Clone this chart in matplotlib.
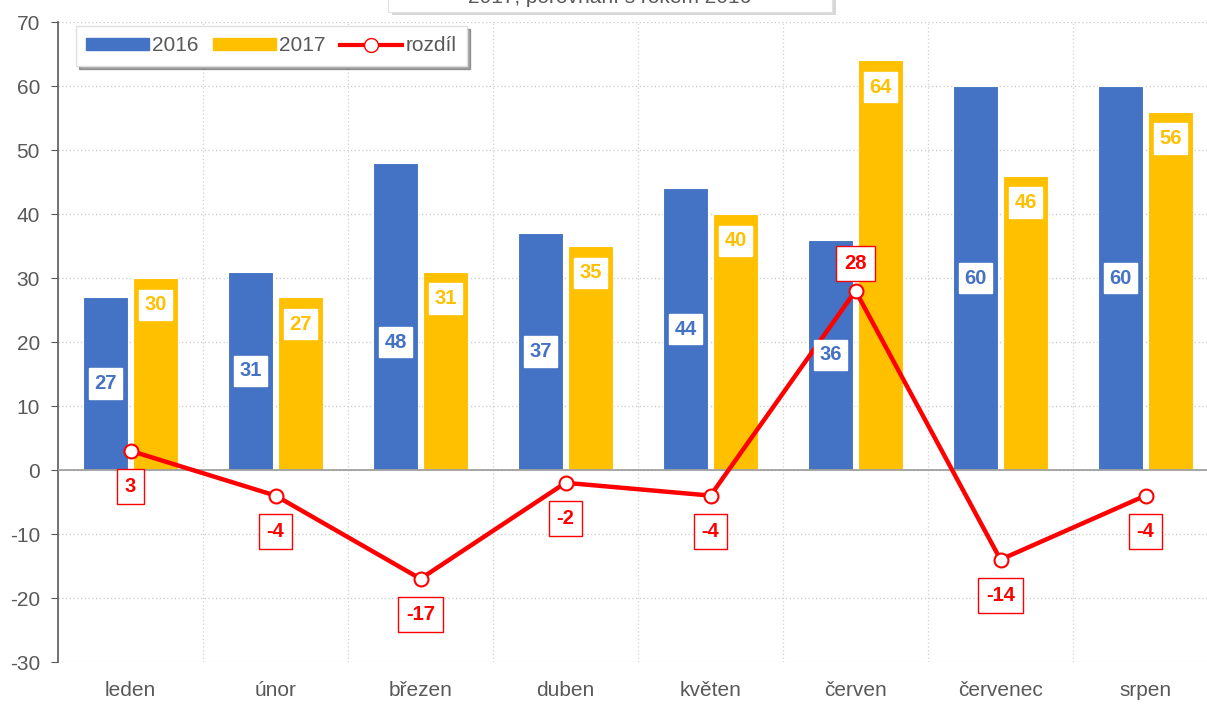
import matplotlib
matplotlib.use("Agg")
import matplotlib.pyplot as plt
import matplotlib.patches as patches
from matplotlib.lines import Line2D
import numpy as np

months = ["leden", "únor", "březen", "duben", "květen", "červen", "červenec", "srpen"]
v2016 = [27, 31, 48, 37, 44, 36, 60, 60]
v2017 = [30, 27, 31, 35, 40, 64, 46, 56]
rozdil = [3, -4, -17, -2, -4, 28, -14, -4]

blue = "#4472C4"
gold = "#FFC000"
red = "#FF0000"
grey = "#595959"

plt.rcParams["font.family"] = ["Liberation Sans Narrow", "Liberation Sans", "DejaVu Sans"]
plt.rcParams["axes.unicode_minus"] = False

W, H = 1207, 704
fig = plt.figure(figsize=(W / 100, H / 100), dpi=100)
ax = fig.add_axes([58 / W, (H - 662) / H, 1160 / W, 640 / H])

x = np.arange(len(months))
bw = 0.31
off = 0.172
ax.bar(x - off, v2016, bw, color=blue, edgecolor="white", linewidth=0.8, zorder=3)
ax.bar(x + off, v2017, bw, color=gold, edgecolor="white", linewidth=0.8, zorder=3)
ax.plot(x, rozdil, color=red, linewidth=3.2, marker="o", markersize=10,
        markerfacecolor="white", markeredgecolor=red, markeredgewidth=1.5, zorder=5)

ax.set_xlim(-0.5, 7.5)
ax.set_ylim(-30, 70)
ax.set_yticks(range(-30, 71, 10))
ax.set_xticks(x)
ax.set_xticklabels(months)
ax.tick_params(axis="x", length=0, pad=14, labelsize=15, labelcolor=grey)
ax.tick_params(axis="y", length=5, color=grey, labelsize=15, labelcolor=grey, pad=8)

for s in ["top", "right", "bottom"]:
    ax.spines[s].set_visible(False)
ax.spines["left"].set_color(grey)
ax.spines["left"].set_linewidth(1.2)

for yv in range(-30, 71, 10):
    ax.axhline(yv, color="#C8C8C8", linestyle=(0, (1, 2)), linewidth=0.9, zorder=1)
for xb in np.arange(0.5, 7.5, 1):
    ax.axvline(xb, color="#D0D0D0", linestyle=(0, (1, 2)), linewidth=0.9, zorder=1)
ax.axhline(0, color="#A0A0A0", linewidth=1.3, zorder=4)

lab_font = dict(fontsize=14.5, fontweight="bold", ha="center", va="center", zorder=6)
for i, v in enumerate(v2016):
    yl = 20 if v == 48 else v / 2
    ax.text(i - off, yl, str(v), color=blue,
            bbox=dict(boxstyle="square,pad=0.28", fc="white", ec="white", lw=1), **lab_font)
for i, v in enumerate(v2017):
    ax.text(i + off, v - 4.2, str(v), color=gold,
            bbox=dict(boxstyle="square,pad=0.28", fc="white", ec="white", lw=1), **lab_font)
for i, v in enumerate(rozdil):
    yl = v + 4.3 if v > 10 else v - 5.6
    ax.text(i, yl, str(v), color=red,
            bbox=dict(boxstyle="square,pad=0.4", fc="white", ec=red, lw=1), **lab_font)

# legend
handles = [patches.Patch(color=blue, label="2016"),
           patches.Patch(color=gold, label="2017"),
           Line2D([], [], color=red, linewidth=3, marker="o", markersize=10,
                  markerfacecolor="white", markeredgecolor=red, label="rozdíl")]
leg = ax.legend(handles=handles, ncol=3, loc="upper left", bbox_to_anchor=(18 / 1160, 1 - 4 / 640),
                frameon=True, fancybox=False, shadow=True, fontsize=15, handlelength=3.0,
                handleheight=0.55, handletextpad=0.15, columnspacing=0.7, borderpad=0.5,
                borderaxespad=0)
leg.get_frame().set_edgecolor("#E0E0E0")
for t in leg.get_texts():
    t.set_color(grey)
leg.set_zorder(10)

# title box, mostly outside the figure (cut off as in the original)
fig.patches.append(patches.Rectangle((392 / W, (H - 15) / H), 444 / W, 40 / H,
                                     transform=fig.transFigure, fc="#BFBFBF", ec="none", alpha=0.6))
fig.patches.append(patches.Rectangle((388 / W, (H - 12) / H), 444 / W, 40 / H,
                                     transform=fig.transFigure, fc="white", ec="#E0E0E0", lw=0.8))
fig.text(610 / W, (H - 3) / H, "2017, porovnání s rokem 2016", ha="center", va="baseline",
         fontsize=15, color=grey)

fig.savefig("out.png", dpi=100)
